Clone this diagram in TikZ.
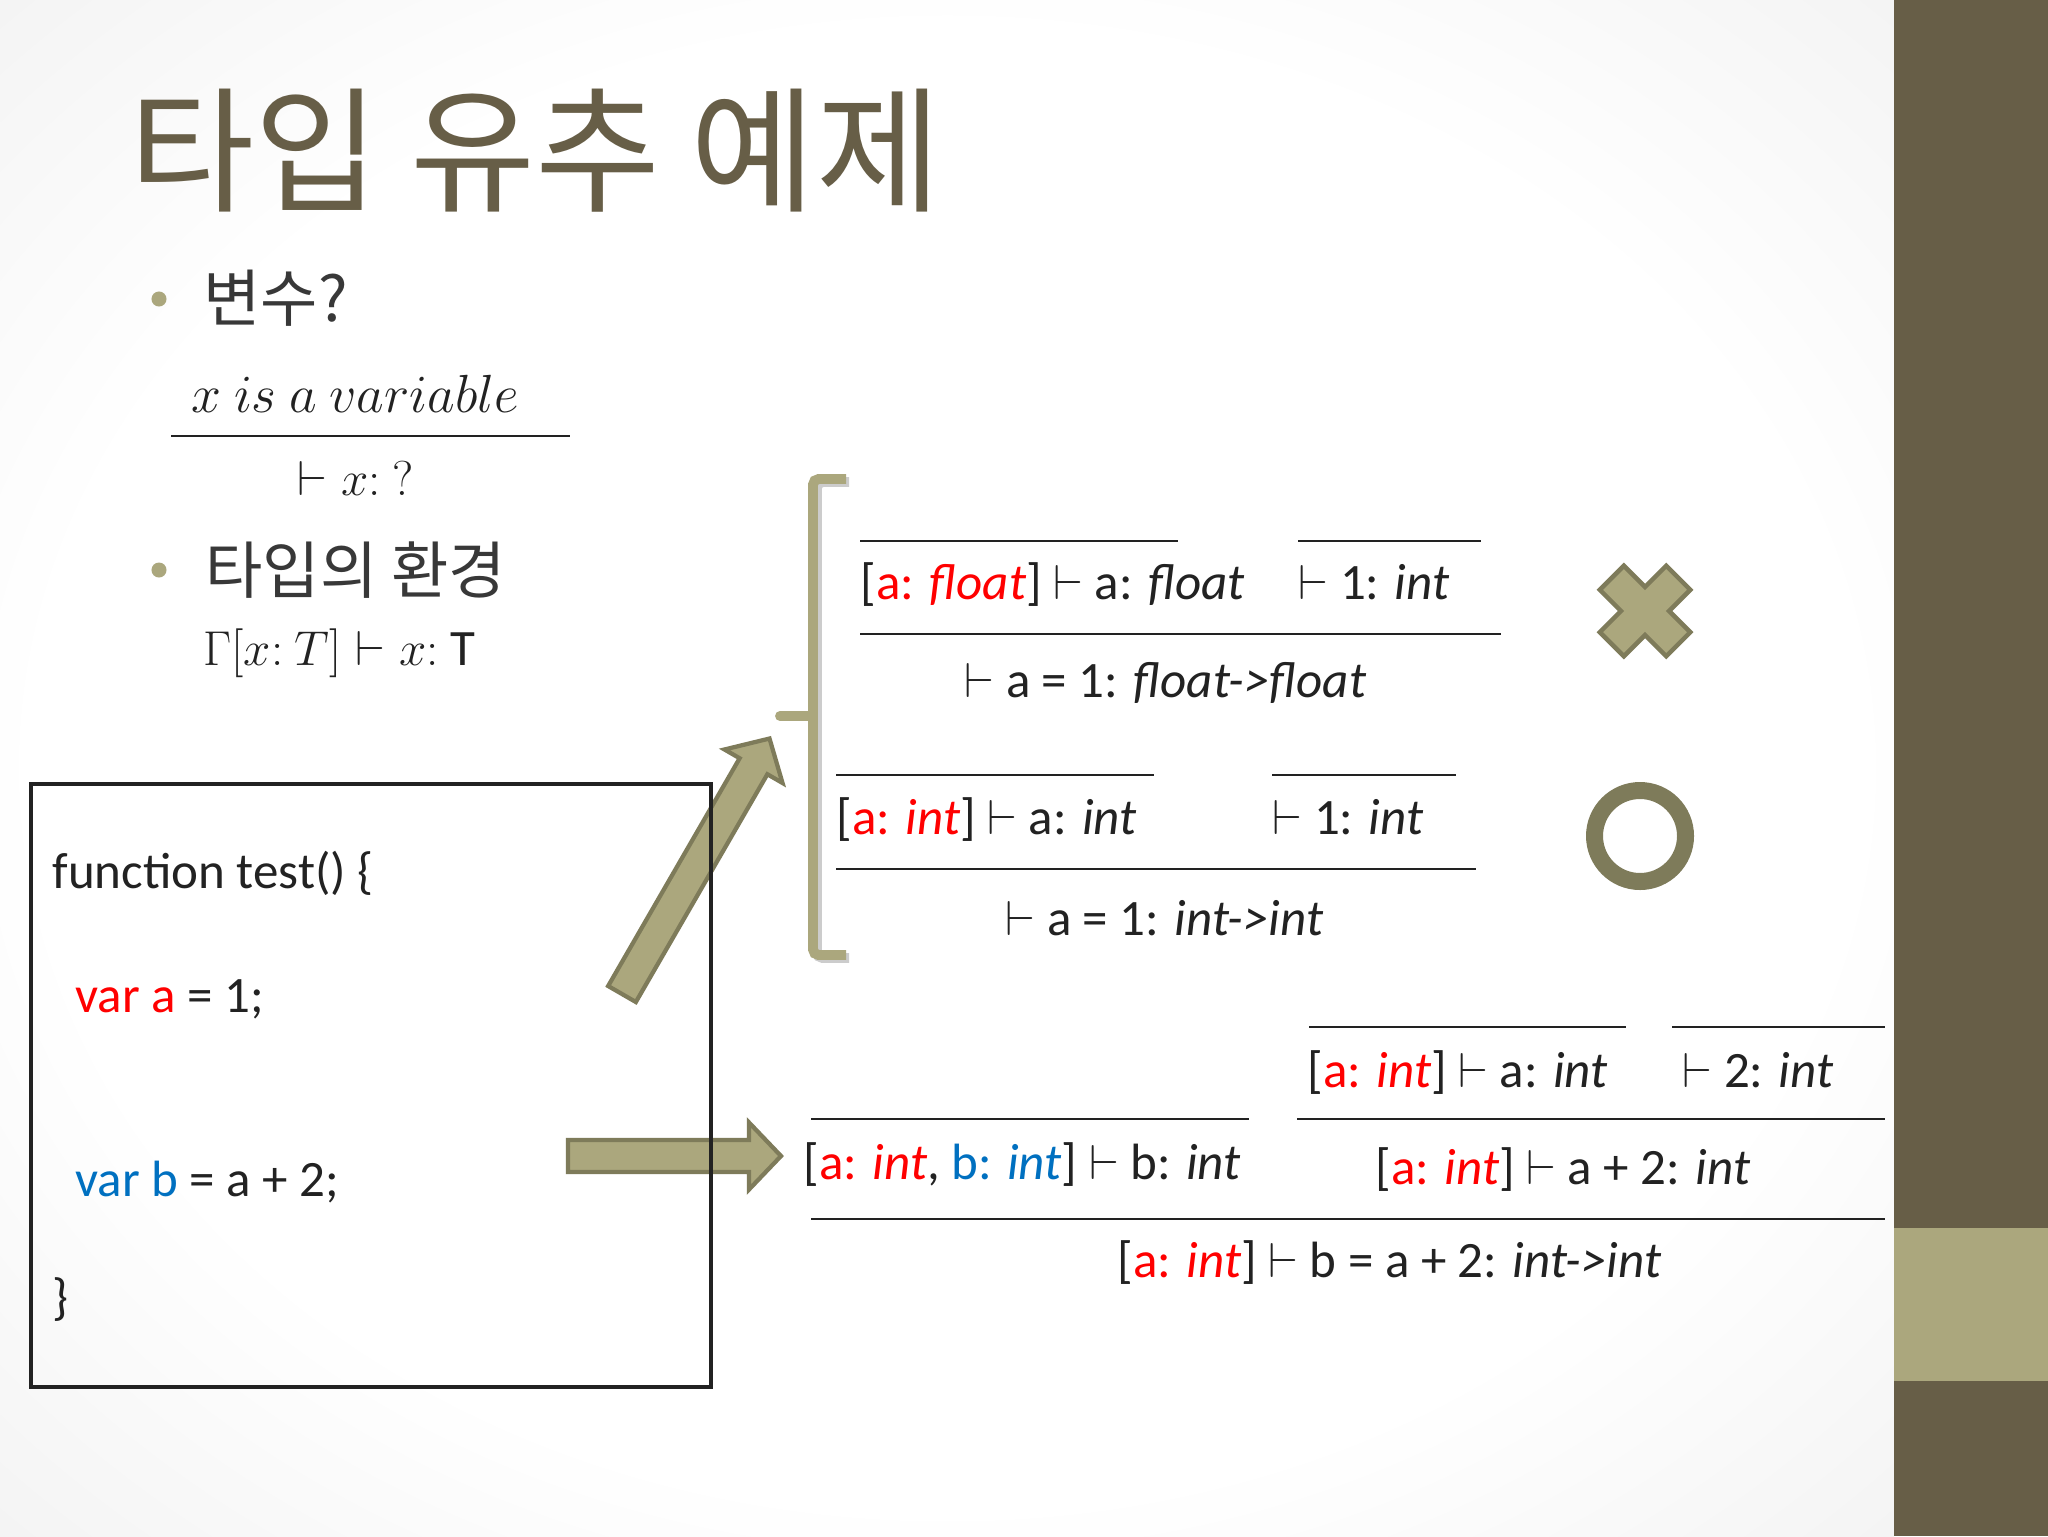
\documentclass[tikz,border=0pt]{standalone}
\usepackage{fontspec}
\usepackage{graphicx}
\usepackage{tikz}
\setmainfont{Carlito}
\newfontfamily\kr{Noto Sans CJK KR}

\definecolor{bark}{HTML}{675E47}
\definecolor{olive}{HTML}{ABA77D}
\definecolor{olivedk}{HTML}{7E7B5A}
\definecolor{ink}{HTML}{222222}
\definecolor{tred}{HTML}{FF0000}
\definecolor{tblue}{HTML}{0070C0}

\pgfdeclareradialshading{vignette}{\pgfpoint{0bp}{0bp}}{color(0bp)=(white); color(24bp)=(white); color(50bp)=(black!10); color(70bp)=(black!13)}

\newcommand{\ent}{$\vdash$}
\newcommand{\ctx}[1]{[\textcolor{tred}{a: \textit{#1}}]}
% block arrow: tail, angle, length
\newcommand{\fatarrow}[3]{%
  \draw[fat, shift={(#1)}, rotate=#2]
    (0,-16) -- ({#3-34},-16) -- ({#3-34},-33.5) -- ({#3-2},0)
    -- ({#3-34},33.5) -- ({#3-34},16) -- (0,16) -- cycle;}

\begin{document}
\begin{tikzpicture}[x=0.0124023cm, y=-0.0124023cm,
  title/.style={anchor=base west, inner sep=0, text=bark, font=\kr\fontsize{48}{56}\selectfont},
  item/.style={anchor=base west, inner sep=0, text=ink!90, font=\kr\fontsize{22}{26}\selectfont},
  dot/.style={circle, fill=olive, inner sep=0, minimum size=5.3pt},
  judg/.style={anchor=base west, inner sep=0, text=ink, font=\fontsize{18}{21.6}\selectfont},
  bar/.style={ink, line width=1pt},
  codebox/.style={draw=ink, line width=1.3pt, inner sep=0, minimum width=8.43cm, minimum height=7.48cm},
  fat/.style={fill=olive, draw=olivedk, line width=1.5pt},
  brace/.style={olive, line width=3.5pt, rounded corners=2pt},
]
  \useasboundingbox (0,0) rectangle (2048,1536);
  \shade[shading=vignette] (0,0) rectangle (1894,1536);
  \fill[bark] (1894,0) rectangle (2048,1536);
  \fill[olive] (1894,1228) rectangle (2048,1381);

  % heading and bullets
  \node (title) at (129,201) [title] {타입 유추 예제};
  \node (dotA) at (159,299) [dot] {};
  \node (var) at (203,321) [item] {변수?};
  \node (isVar) at (191,412) [judg] {\scalebox{1.097}{$x\ is\ a\ variable$}};
  \draw[bar] (171,436) -- (570,436);
  \node (xQ) at (297,495) [judg] {$\vdash x{:}\ ?$};
  \node (dotB) at (159,570) [dot] {};
  \node (env) at (205,593) [item] {타입의 환경};
  \node (envRule) at (203,665) [judg] {$\Gamma[x{:}\ T] \vdash x{:}\ \mathrm{T}$};

  % brace
  \draw[black!20, line width=3.5pt, rounded corners=2pt] (849,482) -- (817,482) -- (817,958) -- (849,958);
  \draw[brace] (846,479) -- (813,479) -- (813,955) -- (846,955);
  \draw[brace, line cap=round] (780,716) -- (813,716);

  % arrows out of the code
  \coordinate (upTail) at (622,994);
  \coordinate (rightTail) at (568,1156);
  \fatarrow{upTail}{60}{297}
  \fatarrow{rightTail}{0}{215}

  % code
  \node (code) at (371,1085.5) [codebox] {};
  \node (fn) at (52,888) [judg] {function test() \{};
  \node (varA) at (75,1012) [judg] {\textcolor{tred}{var a} = 1;};
  \node (varB) at (75,1196) [judg] {\textcolor{tblue}{var b} = a + 2;};
  \node (close) at (52,1314) [judg] {\}};

  % a: float
  \draw[bar] (860,541) -- (1178,541);
  \draw[bar] (1298,541) -- (1481,541);
  \node (fltVar) at (860,599) [judg] {\ctx{float} \ent{} a: \textit{float}};
  \node (fltOne) at (1298,599) [judg] {\ent{} 1: \textit{int}};
  \draw[bar] (860,634) -- (1501,634);
  \node (fltEq) at (964,697) [judg] {\ent{} a = 1: \textit{float->float}};

  % a: int
  \draw[bar] (836,775) -- (1154,775);
  \draw[bar] (1272,775) -- (1456,775);
  \node (intVar) at (836,834) [judg] {\ctx{int} \ent{} a: \textit{int}};
  \node (intOne) at (1272,834) [judg] {\ent{} 1: \textit{int}};
  \draw[bar] (836,869) -- (1476,869);
  \node (intEq) at (1005,935) [judg] {\ent{} a = 1: \textit{int->int}};

  % var b
  \draw[bar] (1309,1027) -- (1626,1027);
  \draw[bar] (1672,1027) -- (1885,1027);
  \node (aVar) at (1307,1087) [judg] {\ctx{int} \ent{} a: \textit{int}};
  \node (twoInt) at (1682,1087) [judg] {\ent{} 2: \textit{int}};
  \draw[bar] (811,1119) -- (1249,1119);
  \draw[bar] (1297,1119) -- (1885,1119);
  \node (bVar) at (803,1179) [judg] {[\textcolor{tred}{a: \textit{int}}, \textcolor{tblue}{b: \textit{int}}] \ent{} b: \textit{int}};
  \node (aPlus) at (1375,1184) [judg] {\ctx{int} \ent{} a + 2: \textit{int}};
  \draw[bar] (811,1219) -- (1885,1219);
  \node (bEq) at (1117,1277) [judg] {\ctx{int} \ent{} b = a + 2: \textit{int->int}};

  % verdicts
  \coordinate (wrong) at (1645,611);
  \draw[fat, line width=1.6pt, shift={(wrong)}, rotate=45]
    (17,17) -- (47,17) -- (47,-17) -- (17,-17) -- (17,-47) -- (-17,-47) -- (-17,-17)
    -- (-47,-17) -- (-47,17) -- (-17,17) -- (-17,47) -- (17,47) -- cycle;
  \coordinate (right) at (1640,836);
  \draw[olivedk, line width=6pt] (right) circle (45.5);
\end{tikzpicture}
\end{document}
